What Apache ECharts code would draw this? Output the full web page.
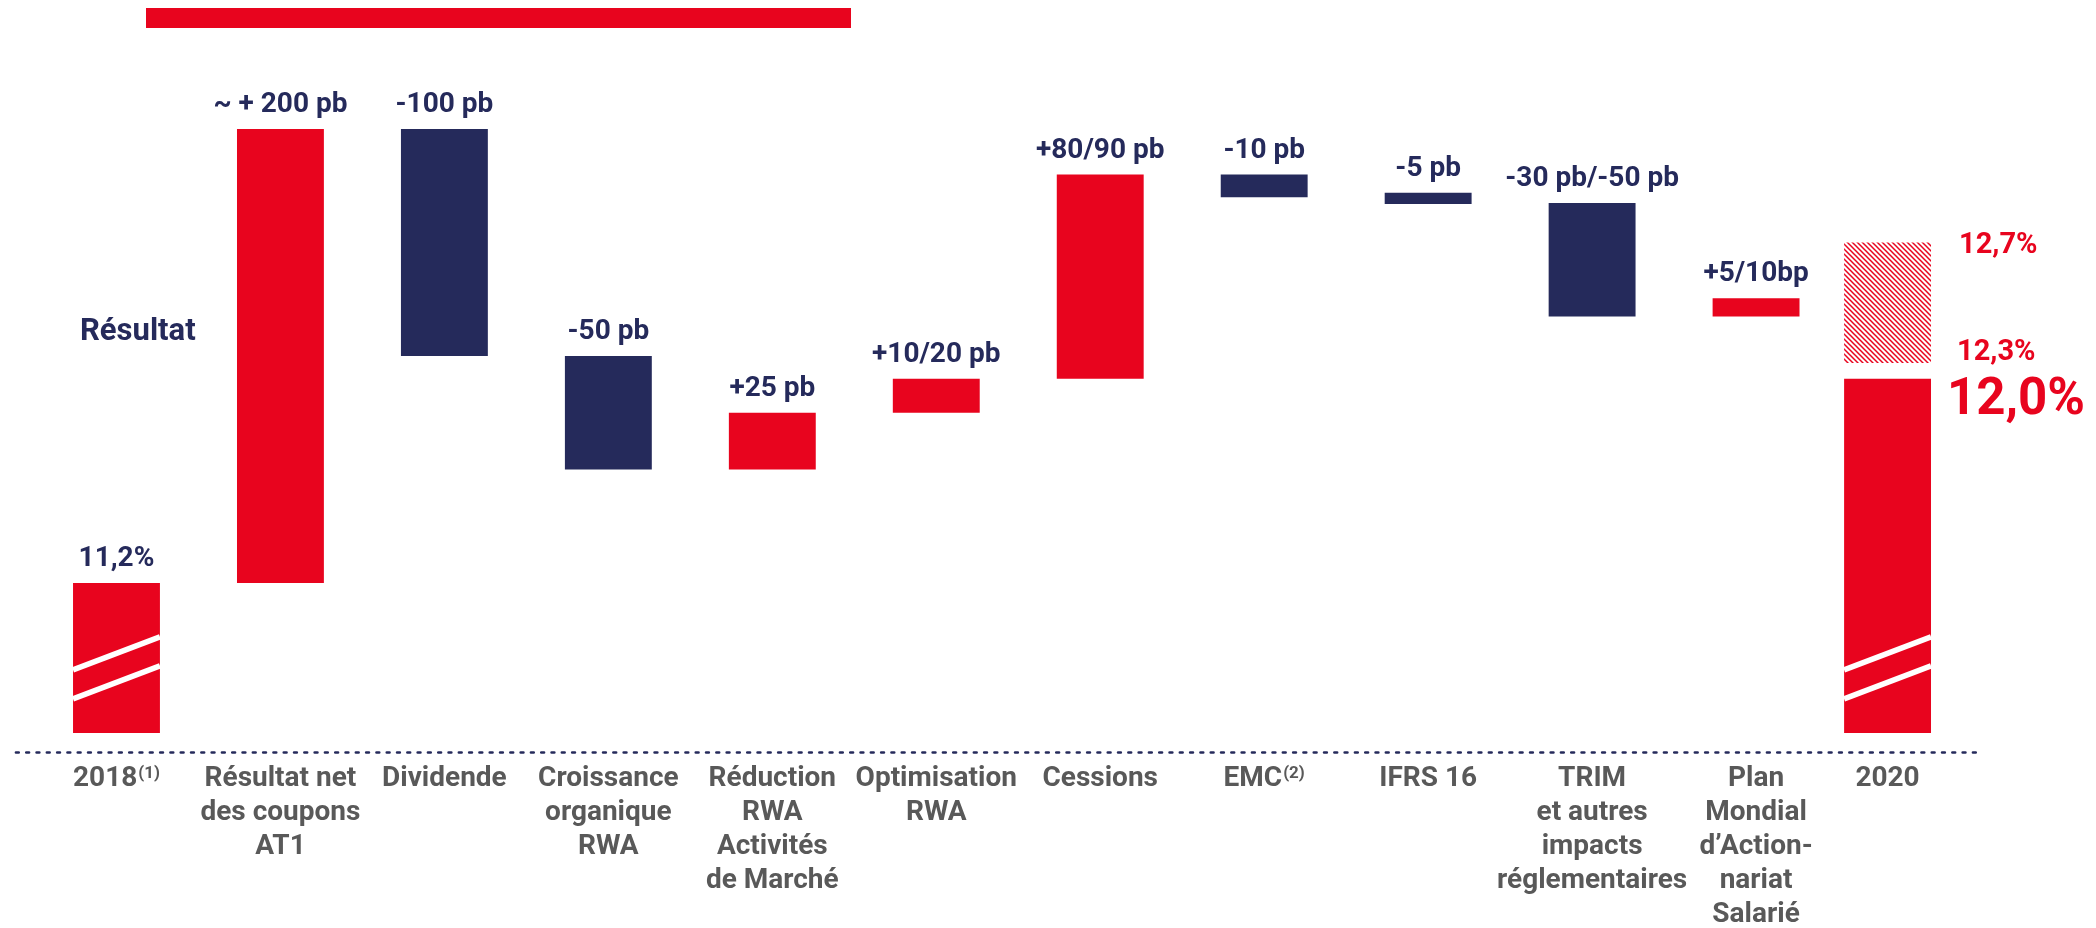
<!DOCTYPE html>
<html><head><meta charset="utf-8">
<script src="https://cdn.jsdelivr.net/npm/echarts@6/dist/echarts.min.js"></script>
<style>html,body{margin:0;padding:0;background:#fff}#chart{width:2096px;height:928px}</style>
</head><body><div id="chart"></div>
<script>
// ---------- data ----------
const categories = ['2018', 'Résultat net\ndes coupons\nAT1', 'Dividende', 'Croissance\norganique\nRWA',
  'Réduction\nRWA\nActivités\nde Marché', 'Optimisation\nRWA', 'Cessions', 'EMC', 'IFRS 16',
  'TRIM\net autres\nimpacts\nréglementaires', 'Plan\nMondial\nd’Action-\nnariat\nSalarié', '2020'];
const footnotes = ['(1)', '', '', '', '', '', '', '(2)', '', '', '', ''];
const barLow  = [10.54, 11.20, 12.20, 11.70, 11.70, 11.95, 12.10, 12.90, 12.87, 12.375, 12.375, 10.54];
const barHigh = [11.20, 13.20, 13.20, 12.20, 11.95, 12.10, 13.00, 13.00, 12.92, 12.875, 12.455, 12.10];
const barKind = ['total', 'up', 'down', 'down', 'up', 'up', 'up', 'down', 'down', 'down', 'up', 'total'];
const valueLabels = ['11,2%', '~ + 200 pb', '-100 pb', '-50 pb', '+25 pb', '+10/20 pb', '+80/90 pb',
  '-10 pb', '-5 pb', '-30 pb/-50 pb', '+5/10bp', ''];
const targetRange = [12.17, 12.70];
const targetLabels = ['12,3%', '12,7%'];
const endLabel = '12,0%';
const sideNote = 'Résultat';

// ---------- style ----------
const RED = '#e8041e';
const NAVY = '#252a5b';
const GRAY = '#595959';
const FONT = 'Roboto';
const BAR_RATIO = 0.53;
const LAST_SHIFT = -0.198;

const hatch = (function () {
  const c = document.createElement('canvas');
  c.width = 5; c.height = 5;
  const g = c.getContext('2d');
  g.strokeStyle = RED; g.lineWidth = 1.5;
  g.beginPath();
  g.moveTo(-1, -1); g.lineTo(6, 6);
  g.moveTo(4, -1); g.lineTo(6, 1);
  g.moveTo(-1, 4); g.lineTo(1, 6);
  g.stroke();
  return c;
})();

function barGeom(api, idx, lo, hi) {
  const band = api.size([1, 0])[0];
  const w = band * BAR_RATIO;
  const shift = idx === categories.length - 1 ? LAST_SHIFT * band : 0;
  const top = api.coord([idx, hi]);
  const bot = api.coord([idx, lo]);
  return { x: top[0] - w / 2 + shift, y: top[1], w: w, h: bot[1] - top[1], cx: top[0] + shift };
}

const chart = echarts.init(document.getElementById('chart'), null, { renderer: 'canvas' });

chart.setOption({
  animation: false,
  backgroundColor: '#fff',
  grid: [
    { left: 34.5, right: 94, top: 61, bottom: 186, containLabel: false, outerBoundsMode: 'none' },
    { left: 16, right: 113, top: 61, bottom: 186, containLabel: false, outerBoundsMode: 'none' }
  ],
  xAxis: [{
    type: 'category', gridIndex: 0, data: categories, offset: 10,
    axisLine: { show: false }, axisTick: { show: false },
    axisLabel: {
      interval: 0, margin: 10, fontSize: 28, fontWeight: 'bold', fontFamily: FONT,
      color: GRAY, lineHeight: 34, hideOverlap: false,
      formatter: function (v, i) {
        if (i === categories.length - 1) return '{last|' + v + '}';
        return footnotes[i] ? v + '{sup|' + footnotes[i] + '}' : v;
      },
      rich: {
        sup: { fontSize: 17, fontWeight: 'bold', fontFamily: FONT, color: GRAY, verticalAlign: 'top', padding: [3, 0, 0, 1] },
        last: { fontSize: 28, fontWeight: 'bold', fontFamily: FONT, color: GRAY, lineHeight: 34, padding: [0, 65, 0, 0] }
      }
    }
  }, {
    type: 'value', gridIndex: 1, min: 0, max: 1, offset: 10,
    axisLine: { show: true, onZero: false, lineStyle: { color: NAVY, width: 2.7, type: [2.7, 7.6] } },
    axisTick: { show: false }, axisLabel: { show: false }, splitLine: { show: false }
  }],
  yAxis: [
    { type: 'value', gridIndex: 0, min: 10.5, max: 13.5, show: false },
    { type: 'value', gridIndex: 1, min: 0, max: 1, show: false }
  ],
  graphic: [
    { type: 'rect', left: 146, top: 8, shape: { width: 705, height: 20 }, style: { fill: RED } },
    { type: 'text', left: 80, top: 317, style: { text: sideNote, fill: NAVY, fontSize: 31, fontWeight: 'bold', fontFamily: FONT } }
  ],
  series: [{
    type: 'custom', xAxisIndex: 0, yAxisIndex: 0, clip: false,
    encode: { x: 0, y: [1, 2] },
    data: categories.map((c, i) => [i, barLow[i], barHigh[i]]),
    renderItem: function (params, api) {
      const i = params.dataIndex;
      const g = barGeom(api, api.value(0), api.value(1), api.value(2));
      const kind = barKind[i];
      const color = kind === 'down' ? NAVY : RED;
      const children = [{ type: 'rect', shape: { x: g.x, y: g.y, width: g.w, height: g.h }, style: { fill: color } }];
      if (kind === 'total') {
        const b = g.y + g.h;
        [[63, 96], [34, 67]].forEach(function (p) {
          children.push({ type: 'line', shape: { x1: g.x, y1: b - p[0], x2: g.x + g.w, y2: b - p[1] },
            style: { stroke: '#fff', lineWidth: 5.5 } });
        });
      }
      if (valueLabels[i]) {
        children.push({ type: 'text', style: { text: valueLabels[i], x: g.cx, y: g.y - 10, align: 'center',
          verticalAlign: 'bottom', fill: NAVY, fontSize: 28, fontWeight: 'bold', fontFamily: FONT } });
      }
      if (i === categories.length - 1) {
        children.push({ type: 'text', style: { text: endLabel, x: g.x + g.w + 16, y: g.y + 22, align: 'left',
          verticalAlign: 'middle', fill: RED, fontSize: 51, fontWeight: 'bold', fontFamily: FONT } });
      }
      return { type: 'group', children: children };
    }
  }, {
    type: 'custom', xAxisIndex: 0, yAxisIndex: 0, clip: false,
    encode: { x: 0, y: [1, 2] },
    data: [[categories.length - 1, targetRange[0], targetRange[1]]],
    renderItem: function (params, api) {
      const g = barGeom(api, api.value(0), api.value(1), api.value(2));
      return { type: 'group', children: [
        { type: 'rect', shape: { x: g.x, y: g.y, width: g.w, height: g.h }, style: { fill: { image: hatch, repeat: 'repeat' } } },
        { type: 'text', style: { text: targetLabels[1], x: g.x + g.w + 28, y: g.y + 3, align: 'left', verticalAlign: 'middle',
          fill: RED, fontSize: 29, fontWeight: 'bold', fontFamily: FONT } },
        { type: 'text', style: { text: targetLabels[0], x: g.x + g.w + 26, y: g.y + g.h - 10, align: 'left', verticalAlign: 'middle',
          fill: RED, fontSize: 29, fontWeight: 'bold', fontFamily: FONT } }
      ] };
    }
  }]
});
</script>
</body></html>
